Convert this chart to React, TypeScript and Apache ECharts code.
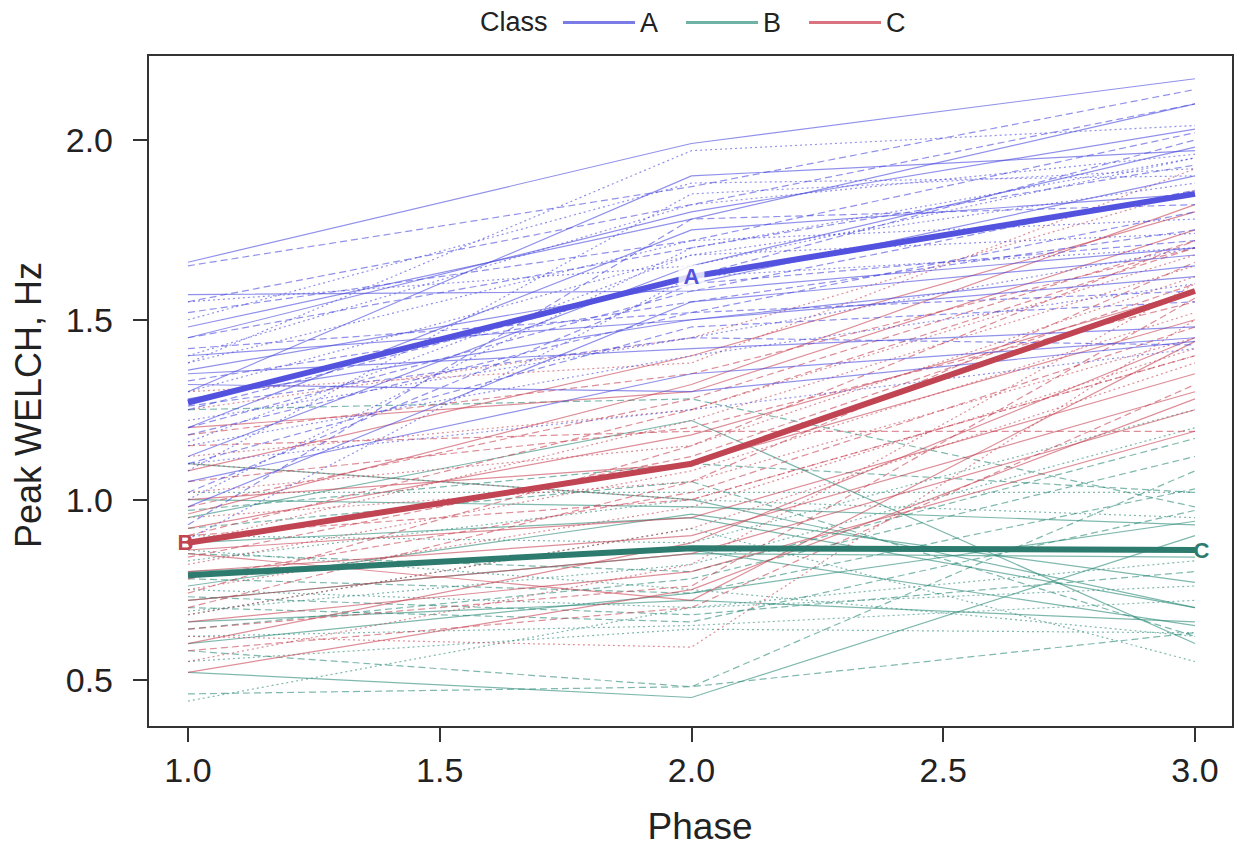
import React, { useEffect, useRef } from "react";
import * as echarts from "echarts";

const phases = [1, 2, 3];
const xTicks = [1.0, 1.5, 2.0, 2.5, 3.0];
const yTicks = [0.5, 1.0, 1.5, 2.0];
const classNames = ["A", "B", "C"];

// Individual trajectories: values at phase 1, 2, 3
const classA = [
  [1.66, 1.99, 2.17], [1.65, 1.87, 2.14], [1.38, 1.97, 2.04], [1.57, 1.58, 1.70],
  [1.52, 1.72, 2.02], [1.55, 1.65, 1.95], [1.48, 1.78, 2.10], [1.45, 1.70, 1.93],
  [1.40, 1.82, 1.96], [1.36, 1.60, 1.90], [1.33, 1.55, 1.75], [1.30, 1.68, 1.88],
  [1.28, 1.50, 1.62], [1.25, 1.62, 2.00], [1.22, 1.45, 1.70], [1.20, 1.75, 1.85],
  [1.18, 1.52, 1.80], [1.15, 1.40, 1.60], [1.12, 1.65, 1.98], [1.10, 1.48, 1.55],
  [1.08, 1.85, 1.92], [1.05, 1.35, 1.45], [1.02, 1.60, 1.72], [1.00, 1.70, 1.95],
  [0.98, 1.55, 1.68], [0.93, 1.78, 1.82], [0.89, 1.62, 1.70], [1.35, 1.42, 1.48],
  [1.42, 1.52, 1.58], [1.50, 1.88, 1.90], [1.32, 1.30, 1.44], [1.26, 1.45, 1.43],
  [1.38, 1.72, 1.78], [1.45, 1.80, 2.03], [1.20, 1.58, 1.86], [1.10, 1.25, 1.42],
  [1.30, 1.90, 1.97], [1.55, 1.82, 2.10], [1.16, 1.68, 1.74], [1.40, 1.50, 1.65],
];

const classB = [
  [1.25, 1.28, 0.98], [1.02, 1.02, 1.02], [0.95, 1.22, 0.60], [0.92, 1.05, 0.62],
  [0.90, 0.88, 1.25], [0.88, 0.95, 0.70], [0.85, 0.80, 1.17], [0.83, 1.00, 0.95],
  [0.80, 0.86, 0.65], [0.78, 0.74, 1.03], [0.75, 0.70, 0.76], [0.72, 0.85, 0.84],
  [0.70, 0.66, 0.97], [0.68, 0.92, 0.55], [0.66, 0.72, 0.66], [0.64, 0.78, 1.12],
  [0.62, 0.65, 0.72], [0.60, 0.74, 0.94], [0.58, 0.48, 1.08], [0.55, 0.64, 0.63],
  [0.52, 0.45, 0.90], [0.46, 0.48, 0.63], [0.44, 0.70, 0.83], [1.00, 0.98, 0.93],
  [0.97, 1.10, 1.02], [0.86, 0.75, 0.62], [0.76, 0.96, 0.77], [0.73, 0.68, 0.80],
  [0.69, 0.82, 1.20], [1.10, 1.00, 0.70],
];

const classC = [
  [1.25, 1.45, 1.86], [1.20, 1.30, 1.75], [1.18, 1.35, 1.70], [1.12, 1.25, 1.68],
  [1.08, 1.40, 1.80], [1.05, 1.20, 1.55], [1.02, 1.15, 1.62], [1.00, 1.10, 1.50],
  [0.98, 1.28, 1.72], [0.95, 1.05, 1.45], [0.92, 1.18, 1.58], [0.90, 1.00, 1.40],
  [0.88, 1.22, 1.65], [0.86, 0.95, 1.35], [0.84, 1.12, 1.60], [0.82, 1.08, 1.52],
  [0.80, 0.90, 1.30], [0.78, 1.02, 1.48], [0.75, 0.98, 1.42], [0.72, 0.85, 1.25],
  [0.70, 1.05, 1.66], [0.68, 0.92, 1.38], [0.66, 0.80, 1.19], [0.64, 0.76, 1.56],
  [0.62, 0.59, 1.50], [0.60, 0.88, 1.45], [0.58, 0.70, 1.32], [0.55, 0.82, 1.60],
  [0.52, 0.75, 1.28], [1.15, 1.19, 1.19], [1.30, 1.38, 1.92], [0.96, 1.32, 1.82],
  [0.74, 1.15, 1.72], [1.10, 1.00, 1.40], [0.85, 0.72, 1.44], [0.90, 1.25, 1.70],
];

// Class mean trajectories
const meanA = [1.27, 1.62, 1.85];
const meanB = [0.79, 0.865, 0.86];
const meanC = [0.88, 1.10, 1.58];

const FONT = "'Liberation Sans', Arial, Helvetica, sans-serif";
const thinColors = ["rgba(72,72,222,0.6)", "rgba(42,136,118,0.6)", "rgba(198,66,84,0.6)"];
const meanColors = ["#5252de", "#2d7b6e", "#c04452"];
const legendColors = ["#7b7be8", "#6fb3a6", "#d9737f"];
const dashTypes: any[] = ["solid", [7, 4], [2, 3]];

export default function App() {
  const ref = useRef<HTMLDivElement>(null);
  useEffect(() => {
    document.body.style.margin = "0";
    const chart = echarts.init(ref.current!, undefined, { renderer: "svg" });
    const toPts = (vals: number[]) => vals.map((v, i) => [phases[i], v]);
    const series: any[] = [];
    const groups = [classB, classC, classA];
    const groupIdx = [1, 2, 0];
    groups.forEach((g, gi) => {
      const ci = groupIdx[gi];
      g.forEach((vals, i) => {
        series.push({
          type: "line",
          data: toPts(vals),
          showSymbol: false,
          silent: true,
          z: 2,
          lineStyle: { color: thinColors[ci], width: 1.2, type: dashTypes[(i + ci) % 3] },
          emphasis: { disabled: true },
        });
      });
    });
    const meanSeries = (name: string, ci: number, vals: number[], idx: number, label: any) => ({
      name, type: "line", z: 5, silent: true,
      symbol: "none",
      lineStyle: { width: 6, color: meanColors[ci] },
      itemStyle: { color: legendColors[ci] },
      data: toPts(vals),
      markPoint: {
        silent: true,
        z: 20,
        symbol: "circle",
        symbolSize: 1,
        itemStyle: { color: "rgba(0,0,0,0)" },
        label: {
          show: true, fontFamily: FONT, fontWeight: "bold", fontSize: 22,
          color: meanColors[ci], ...label,
        },
        data: [{ coord: toPts(vals)[idx] }],
      },
      emphasis: { disabled: true },
    });
    series.push(meanSeries(classNames[0], 0, meanA, 1, {
      formatter: "A", position: "inside",
      backgroundColor: "rgba(255,255,255,0.8)", padding: [1, 5],
    }));
    series.push(meanSeries(classNames[1], 1, meanB, 2, {
      formatter: "C", position: "right", distance: -2,
    }));
    series.push(meanSeries(classNames[2], 2, meanC, 0, {
      formatter: "B", position: "left", distance: -6,
    }));

    chart.setOption({
      animation: false,
      backgroundColor: "#fff",
      textStyle: { fontFamily: FONT },
      grid: {
        left: 148, right: 11, top: 55, bottom: 121,
        show: true, borderColor: "#333", borderWidth: 2, containLabel: false,
      },
      legend: {
        data: classNames.map((n, i) => ({ name: n, itemStyle: { color: legendColors[i], opacity: 1 } })),
        selectedMode: false,
        left: 558,
        top: 4,
        icon: "rect",
        itemWidth: 72,
        itemHeight: 3,
        itemGap: 28,
        textStyle: { fontFamily: FONT, fontSize: 27, color: "#222" },
      },
      graphic: [
        {
          type: "text", x: 480, y: 22,
          style: { text: "Class", fontFamily: FONT, fontSize: 27, fill: "#222", verticalAlign: "middle", align: "left" },
        },
        {
          type: "text", x: 700, y: 826,
          style: { text: "Phase", fontFamily: FONT, fontSize: 37, fill: "#222", verticalAlign: "middle", align: "center" },
        },
        {
          type: "text", x: 28, y: 405, rotation: Math.PI / 2,
          style: { text: "Peak WELCH, Hz", fontFamily: FONT, fontSize: 36, fill: "#222", verticalAlign: "middle", align: "center" },
        },
      ],
      xAxis: {
        type: "value",
        min: 0.9206,
        max: 3.0755,
        axisLine: { show: true, lineStyle: { color: "#333", width: 2 } },
        axisTick: { show: true, length: 15, lineStyle: { color: "#333", width: 2 }, customValues: xTicks },
        axisLabel: {
          fontFamily: FONT, fontSize: 34, color: "#222", margin: 26,
          customValues: xTicks, formatter: (v: number) => v.toFixed(1),
        },
        splitLine: { show: false },
      },
      yAxis: {
        type: "value",
        min: 0.368,
        max: 2.236,
        axisLine: { show: true, lineStyle: { color: "#333", width: 2 } },
        axisTick: { show: true, length: 15, lineStyle: { color: "#333", width: 2 }, customValues: yTicks },
        axisLabel: {
          fontFamily: FONT, fontSize: 34, color: "#222", margin: 35,
          customValues: yTicks, formatter: (v: number) => v.toFixed(1),
        },
        splitLine: { show: false },
      },
      series,
    });
    return () => chart.dispose();
  }, []);
  return <div ref={ref} style={{ width: 1244, height: 848 }} />;
}
